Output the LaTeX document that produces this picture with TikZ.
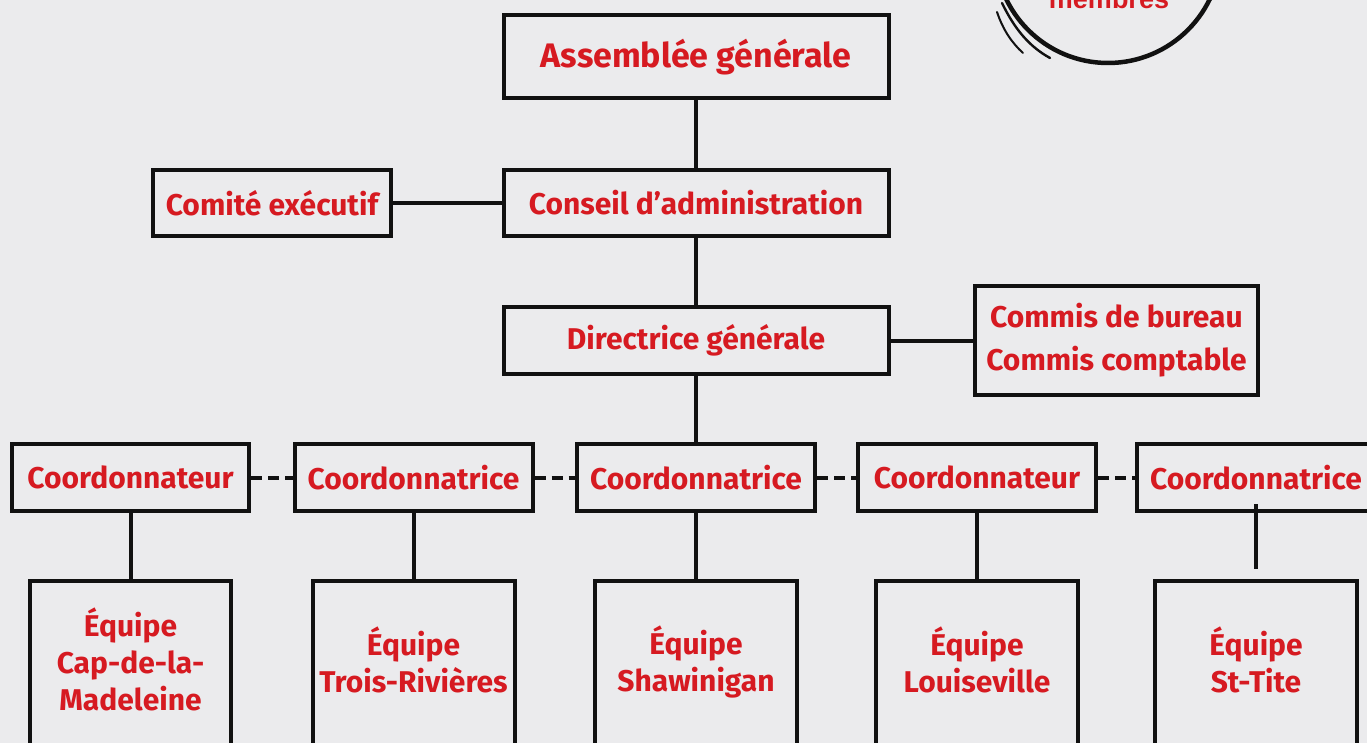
\documentclass[tikz,border=0pt]{standalone}
\usepackage{fontspec}
\setmainfont{Fira Sans}
\newfontfamily\membfont{Liberation Sans}
\definecolor{bg}{RGB}{235,235,237}
\definecolor{txtred}{RGB}{214,26,33}
\definecolor{ink}{RGB}{17,17,17}
\tikzset{
  box/.style={draw=ink, line width=4pt, inner sep=0pt, text=txtred,
    font=\fontsize{30}{37}\selectfont\bfseries, align=center},
  boxtext/.style={inner sep=0pt, text=txtred,
    font=\fontsize{30}{37}\selectfont\bfseries, align=center},
  conn/.style={draw=ink, line width=4pt},
  dashconn/.style={draw=ink, line width=4pt, dash pattern=on 11pt off 6pt},
}
\begin{document}
\begin{tikzpicture}[x=1pt,y=-1pt]
\fill[bg] (0,0) rectangle (1367,743);
\useasboundingbox (0,0) rectangle (1367,743);
\clip (0,0) rectangle (1367,743);

% circle top right
\draw[ink, line width=4.5pt] (1108,-50) circle[radius=113];
\draw[ink, line width=2.4pt, line cap=round] (1002,3) .. controls (1015,30) and (1030,47) .. (1050,58);
\draw[ink, line width=2pt, line cap=round] (997,12) .. controls (1003,30) and (1012,43) .. (1023,53);
\node[anchor=base, text=txtred, font=\membfont\fontsize{27}{30}\selectfont\bfseries, inner sep=0pt] (memb) at (1109,9) {membres};

% upper hierarchy
\node[box, minimum width=385pt, minimum height=83.5pt, font=\fontsize{34}{40}\selectfont\bfseries] (ag) at (696,56.75) {Assemblée générale};
\node[box, minimum width=385pt, minimum height=66pt] (ca) at (696,203) {Conseil d’administration};
\node[box, minimum width=238pt, minimum height=66pt] (ce) at (272,203) {Comité exécutif};
\node[box, minimum width=385pt, minimum height=67pt] (dg) at (696,340.5) {Directrice générale};
\node[box, minimum width=283pt, minimum height=109pt, font=\fontsize{30}{43}\selectfont\bfseries] (cb) at (1116.5,340.5) {Commis de bureau\\Commis comptable};

\draw[conn] (ag.south) -- (ca.north);
\draw[conn] (ce.east) -- (ca.west);
\draw[conn] (ca.south) -- (dg.north);
\draw[conn] (dg.east) -- (cb.west);

% coordinators
\node[box, minimum width=237pt, minimum height=67pt] (c1) at (130.5,477.5) {Coordonnateur};
\node[box, minimum width=238pt, minimum height=67pt] (c2) at (413.5,477.5) {Coordonnatrice};
\node[box, minimum width=238pt, minimum height=67pt] (c3) at (696,477.5) {Coordonnatrice};
\node[box, minimum width=238pt, minimum height=67pt] (c4) at (977,477.5) {Coordonnateur};
\node[box, minimum width=238pt, minimum height=67pt] (c5) at (1256,477.5) {Coordonnatrice};

\draw[conn] (dg.south) -- (c3.north);
\draw[dashconn] (c1.east) -- (c2.west);
\draw[dashconn] (c2.east) -- (c3.west);
\draw[dashconn] (c3.east) -- (c4.west);
\draw[dashconn] (c4.east) -- (c5.west);

% teams
\node[box, minimum width=201pt, minimum height=166pt] (t1) at (130.5,664) {};
\node[box, minimum width=202pt, minimum height=166pt] (t2) at (413.5,664) {};
\node[box, minimum width=202pt, minimum height=166pt] (t3) at (696,664) {};
\node[box, minimum width=202pt, minimum height=166pt] (t4) at (977,664) {};
\node[box, minimum width=202pt, minimum height=166pt] (t5) at (1256,664) {};
\node[boxtext] (t1txt) at ([yshift=5pt]t1.center) {Équipe\\Cap-de-la-\\Madeleine};
\node[boxtext] (t2txt) at ([yshift=4pt]t2.center) {Équipe\\Trois-Rivières};
\node[boxtext] (t3txt) at ([yshift=2pt]t3.center) {Équipe\\Shawinigan};
\node[boxtext] (t4txt) at ([yshift=4pt]t4.center) {Équipe\\Louiseville};
\node[boxtext] (t5txt) at ([yshift=4pt]t5.center) {Équipe\\St-Tite};

\draw[conn] (c1.south) -- (t1.north);
\draw[conn] (c2.south) -- (t2.north);
\draw[conn] (c3.south) -- (t3.north);
\draw[conn] (c4.south) -- (t4.north);
\coordinate (c5top) at (1256,504);
\coordinate (c5bot) at (1256,569);
\draw[conn] (c5top) -- (c5bot);
\end{tikzpicture}
\end{document}
